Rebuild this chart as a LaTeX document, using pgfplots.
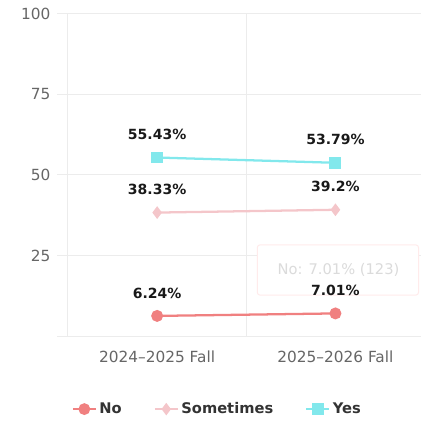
\documentclass[border=0pt]{standalone}
\usepackage{pgfplots}
\pgfplotsset{compat=1.18}
\usepackage{fontspec}
\setmainfont{DejaVu Sans}
\definecolor{cNo}{RGB}{240,128,128}
\definecolor{cSome}{RGB}{244,198,202}
\definecolor{cYes}{RGB}{130,232,236}
\definecolor{gridc}{RGB}{236,236,236}
\definecolor{tickc}{RGB}{102,102,102}
\begin{document}
\begin{tikzpicture}
\begin{axis}[
    at={(0,0)}, anchor=south west,
    scale only axis,
    width=264.75pt, height=241.5pt,
    xmin=-0.5, xmax=1.48,
    ymin=0, ymax=100,
    axis line style={draw=none},
    xtick={0,1},
    xticklabels={2024--2025 Fall, 2025--2026 Fall},
    xtick style={draw=none},
    extra x ticks={-0.5,0.5},
    extra x tick labels={},
    extra x tick style={grid=major, major tick length=8.5pt, tick style={draw=gridc, line width=0.75pt}},
    ytick={0,25,50,75,100},
    yticklabels={,25,50,75,100},
    ymajorgrids,
    tick align=outside,
    major tick length=8.25pt,
    ytick style={draw=gridc, line width=0.75pt},
    grid style={draw=gridc, line width=0.75pt},
    tick label style={font=\fontsize{11.5}{13}\selectfont, text=tickc},
    xticklabel style={yshift=0.5pt},
    yticklabel style={xshift=-1.5pt},
    legend style={at={(0.424,-0.227)}, anchor=center, draw=none, fill=none,
        legend columns=3, font=\bfseries\fontsize{11}{13}\selectfont, text=black!80,
        /tikz/every even column/.append style={column sep=22pt}},
    legend cell align=left,
    legend image post style={line width=1.6pt},
    legend image code/.code={
        \draw[mark repeat=2,mark phase=2,#1] plot coordinates {(0cm,0cm) (0.3cm,0cm) (0.6cm,0cm)};
    },
    point meta=explicit symbolic,
    nodes near coords,
    every node near coord/.append style={anchor=center, yshift=17.25pt, text=black!90,
        font=\bfseries\fontsize{10.5}{12}\selectfont},
]
\draw[draw=red!8, fill=white, rounded corners=2pt, line width=0.75pt]
    (axis cs:0.562,12.7) rectangle (axis cs:1.466,28.3);
\node[text=black!14, font=\fontsize{11}{13}\selectfont] at (axis cs:1.017,20.6) {No: 7.01\% (123)};
\addplot[cNo, line width=1.7pt, mark=*, mark size=3.6pt] coordinates {
    (0,6.24) [6.24\%]
    (1,7.01) [7.01\%]
};
\addlegendentry{No}
\addplot[cSome, line width=1.7pt, mark=diamond*, mark size=3.4pt] coordinates {
    (0,38.33) [38.33\%]
    (1,39.2) [39.2\%]
};
\addlegendentry{Sometimes}
\addplot[cYes, line width=1.7pt, mark=square*, mark size=3.6pt] coordinates {
    (0,55.43) [55.43\%]
    (1,53.79) [53.79\%]
};
\addlegendentry{Yes}
\end{axis}
\pgfresetboundingbox
\useasboundingbox (-51pt,-63.75pt) rectangle (264.75pt,252pt);
\end{tikzpicture}
\end{document}
